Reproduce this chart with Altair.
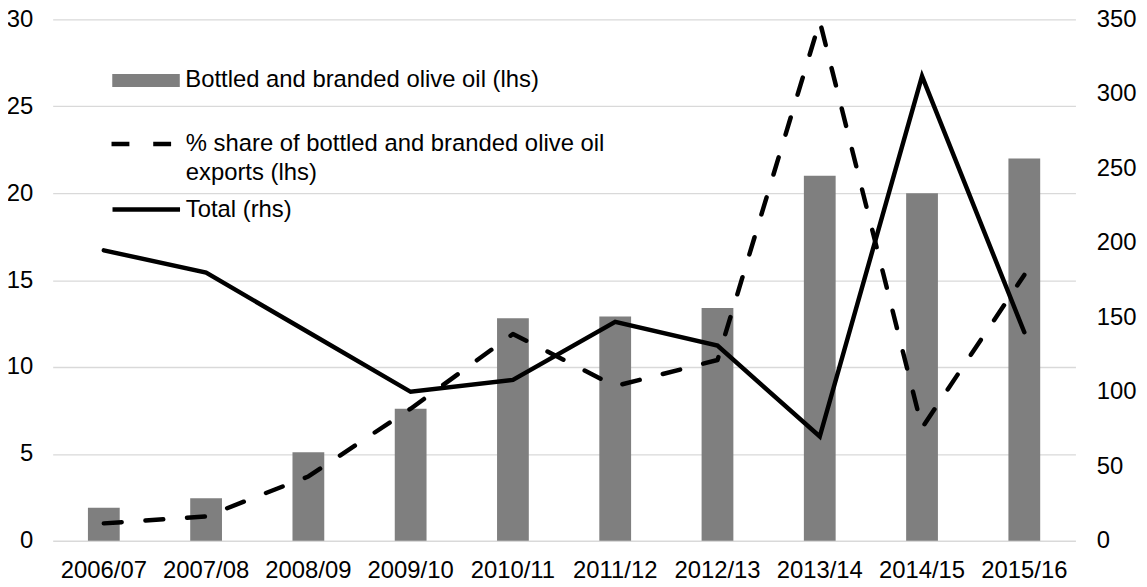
import altair as alt
import pandas as pd

seasons = ['2006/07', '2007/08', '2008/09', '2009/10', '2010/11',
           '2011/12', '2012/13', '2013/14', '2014/15', '2015/16']
bottled = [1.9, 2.45, 5.1, 7.6, 12.8, 12.9, 13.4, 21.0, 20.0, 22.0]
share = [1.0, 1.4, 3.7, 7.6, 11.9, 8.9, 10.4, 29.9, 6.5, 15.3]
total = [195, 180, 140, 100, 108, 147, 131, 70, 312, 140]
left_ticks = [0, 5, 10, 15, 20, 25, 30]
right_ticks = [0, 50, 100, 150, 200, 250, 300, 350]

lbl_bar = 'Bottled and branded olive oil (lhs)'
lbl_share = '% share of bottled and branded olive oil exports (lhs)'
lbl_share_lines = ['% share of bottled and branded olive oil', 'exports (lhs)']
lbl_total = 'Total (rhs)'

df = pd.DataFrame({
    'season': seasons, 'bottled': bottled, 'share': share, 'total': total,
    'k_bar': lbl_bar, 'k_share': lbl_share, 'k_total': lbl_total,
})

FONT = 'Liberation Sans'
FS = 24

x = alt.X('season:N', sort=seasons,
          scale=alt.Scale(paddingInner=0, paddingOuter=0),
          axis=alt.Axis(title=None, labelAngle=0, ticks=False, domain=False,
                        grid=False, labelPadding=18))

yl_scale = alt.Scale(domain=[0, 30], nice=False, zero=True)
yl_axis = alt.Axis(title=None, values=left_ticks, grid=True, gridColor='#d9d9d9',
                   gridWidth=1.3, ticks=False, domain=False, labelPadding=20)

common_legend = dict(orient='none', title=None, padding=0, labelFont=FONT,
                     labelFontSize=FS, labelColor='black', labelLimit=2000)

bars = alt.Chart(df).mark_bar(size=32).encode(
    x=x,
    y=alt.Y('bottled:Q', scale=yl_scale, axis=yl_axis),
    fill=alt.Fill('k_bar:N', scale=alt.Scale(domain=[lbl_bar], range=['#7f7f7f']),
                  legend=alt.Legend(legendX=60, legendY=27.5, labelOffset=5.5,
                                    symbolType='M-1,-0.191H1V0.191H-1Z',
                                    symbolSize=4624, symbolStrokeWidth=0,
                                    **common_legend)),
)

dashed = alt.Chart(df).mark_line(color='black', strokeWidth=4.5, strokeCap='round',
                                 strokeJoin='round').encode(
    x=x,
    y=alt.Y('share:Q', scale=yl_scale, axis=yl_axis),
    strokeDash=alt.StrokeDash(
        'k_share:N', scale=alt.Scale(domain=[lbl_share], range=[[18, 24]]),
        legend=alt.Legend(legendX=56.75, legendY=92, labelOffset=10.25,
                          symbolType='stroke', symbolSize=3844,
                          symbolStrokeWidth=4.5, symbolStrokeColor='black',
                          labelExpr=str(lbl_share_lines),
                          **common_legend)),
)

solid = alt.Chart(df).mark_line(color='black', strokeWidth=4.5, strokeCap='round',
                                strokeJoin='miter').encode(
    x=x,
    y=alt.Y('total:Q', scale=alt.Scale(domain=[0, 350], nice=False),
            axis=alt.Axis(title=None, orient='right', values=right_ticks, grid=False,
                          ticks=False, domain=False, labelPadding=21)),
    stroke=alt.Stroke('k_total:N', scale=alt.Scale(domain=[lbl_total], range=['black']),
                      legend=alt.Legend(legendX=57.75, legendY=155, labelOffset=3.25,
                                        symbolType='stroke', symbolSize=4624,
                                        symbolStrokeWidth=4.5,
                                        **common_legend)),
)

chart = alt.layer(alt.layer(bars, dashed), solid).resolve_scale(
    y='independent'
).properties(
    width=1030, height=525,
    autosize=alt.AutoSizeParams(type='none'),
    padding={'left': 45, 'top': 9.5, 'right': 64, 'bottom': 39.5},
).configure(
    style={'guide-label': {'lineHeight': 28.7}}
).configure_view(stroke=None).configure_axis(
    labelFont=FONT, labelFontSize=FS, labelColor='black'
)

chart.save('out.html', embed_options={'renderer': 'svg', 'actions': False})
